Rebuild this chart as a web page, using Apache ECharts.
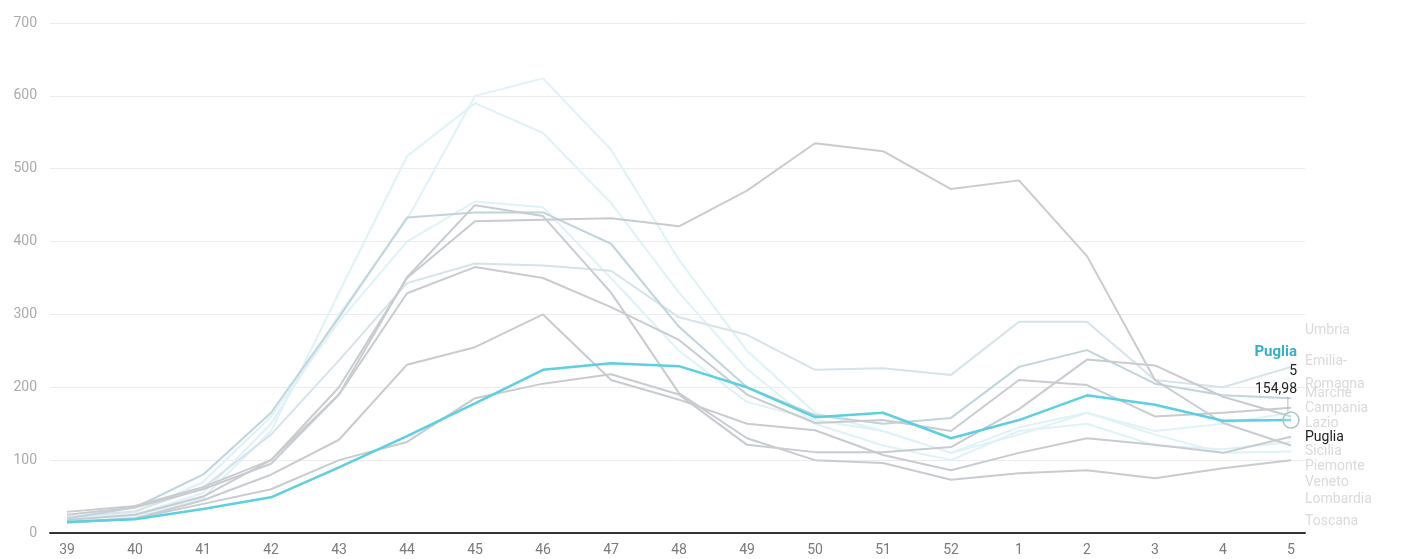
<!DOCTYPE html>
<html>
<head>
<meta charset="utf-8">
<script src="https://cdn.jsdelivr.net/npm/echarts@6/dist/echarts.min.js"></script>
<style>
html,body{margin:0;padding:0;background:#fff;}
#chart{width:1402px;height:559px;}
</style>
</head>
<body>
<div id="chart"></div>
<script>
const weeks = ['39','40','41','42','43','44','45','46','47','48','49','50','51','52','1','2','3','4','5'];

const umbria        = [22, 30, 62, 135, 237, 343, 370, 367, 360, 296, 272, 224, 226, 217, 290, 290, 210, 200, 228];
const emiliaRomagna = [20, 35, 80, 165, 296, 433, 440, 440, 397, 283, 200, 162, 150, 158, 228, 251, 205, 189, 185];
const marche        = [18, 25, 50, 100, 190, 329, 365, 350, 310, 265, 190, 151, 155, 140, 210, 203, 160, 165, 172];
const campania      = [20, 28, 70, 160, 290, 400, 455, 447, 350, 250, 180, 155, 140, 110, 145, 165, 140, 150, 165];
const lazio         = [15, 20, 40, 60, 100, 125, 185, 205, 218, 190, 121, 111, 111, 118, 170, 238, 230, 187, 160];
const puglia        = [15, 19, 33, 49, 90, 133, 178, 224, 233, 229, 200, 159, 165, 130, 155, 189, 176, 154, 154.98];
const sicilia       = [14, 20, 45, 80, 128, 231, 255, 300, 210, 183, 150, 141, 107, 86, 110, 130, 121, 110, 132];
const piemonte      = [15, 22, 48, 140, 330, 517, 590, 549, 453, 330, 225, 150, 120, 100, 140, 150, 120, 115, 125];
const veneto        = [29, 37, 63, 100, 200, 350, 428, 430, 432, 421, 470, 535, 524, 472, 484, 380, 210, 151, 120];
const lombardia     = [18, 25, 55, 150, 300, 430, 600, 624, 526, 375, 250, 165, 140, 110, 135, 165, 135, 110, 112];
const toscana       = [25, 35, 60, 95, 190, 351, 450, 435, 330, 192, 130, 100, 96, 73, 82, 86, 75, 89, 100];

const yTicks = [0, 100, 200, 300, 400, 500, 600, 700];

const GREY = '#c8cbd0', BLUE = '#c0d4dc', CYAN = '#dff2f7';
const FONT = 'Roboto';

// label slot (vertical pixel position of each end label, styling only)
const regions = [
  {name: 'Umbria', data: umbria, color: '#d6e3e8', slot: 330},
  {name: 'Emilia-Romagna', label: 'Emilia-\nRomagna', data: emiliaRomagna, color: BLUE, slot: 373, lh: 23},
  {name: 'Marche', data: marche, color: GREY, slot: 393},
  {name: 'Campania', data: campania, color: CYAN, slot: 408},
  {name: 'Lazio', data: lazio, color: GREY, slot: 423},
  {name: 'Sicilia', data: sicilia, color: GREY, slot: 451},
  {name: 'Piemonte', data: piemonte, color: CYAN, slot: 466},
  {name: 'Veneto', data: veneto, color: GREY, slot: 482},
  {name: 'Lombardia', data: lombardia, color: CYAN, slot: 499},
  {name: 'Toscana', data: toscana, color: GREY, slot: 521}
];
const pugliaSlot = 437;

const series = regions.map(r => ({
  name: r.name,
  type: 'line',
  xAxisIndex: 1, yAxisIndex: 1,
  data: r.data,
  symbol: 'none',
  silent: true,
  lineStyle: {color: r.color, width: 2},
  itemStyle: {color: r.color},
  z: r.color === CYAN ? 2 : 3,
  endLabel: {
    show: true,
    formatter: () => r.label || r.name,
    color: '#dadada',
    fontFamily: FONT,
    fontSize: 14,
    lineHeight: r.lh || 15,
    distance: 14
  },
  animation: false
}));

const pugliaData = puglia.map((v, i) => i === puglia.length - 1 ? {
  value: v,
  symbol: 'circle',
  symbolSize: 16,
  itemStyle: {color: 'rgba(255,255,255,0.2)', borderColor: '#a9c3cb', borderWidth: 1.5},
  label: {
    show: true,
    position: 'top',
    align: 'right',
    offset: [6, 4],
    formatter: '{t|Puglia}\n{v|' + weeks[i] + '}\n{v|' + String(v).replace('.', ',') + '}\n{k|│}',
    rich: {
      t: {color: '#3aaec2', fontWeight: 'bold', fontSize: 15, fontFamily: FONT, lineHeight: 21, align: 'right'},
      v: {color: '#222', fontSize: 14, fontFamily: FONT, lineHeight: 18, align: 'right'},
      k: {color: '#b5b5b5', fontSize: 12, lineHeight: 12, align: 'right', padding: [0, 5, 0, 0]}
    }
  }
} : v);

series.push({
  name: 'Puglia',
  type: 'line',
  xAxisIndex: 1, yAxisIndex: 1,
  data: pugliaData,
  symbol: 'none',
  showSymbol: true,
  silent: true,
  z: 10,
  lineStyle: {color: '#5ccfe0', width: 2.5},
  itemStyle: {color: '#5ccfe0'},
  endLabel: {
    show: true,
    formatter: 'Puglia',
    color: '#1a1a1a',
    fontFamily: FONT,
    fontSize: 14,
    lineHeight: 15,
    distance: 14
  },
  animation: false
});

const chart = echarts.init(document.getElementById('chart'));
chart.setOption({
  animation: false,
  backgroundColor: '#fff',
  grid: [
    {left: 50, right: 97, top: 23, bottom: 26},
    {left: 67, right: 111, top: 23, bottom: 26}
  ],
  xAxis: [
    {type: 'value', gridIndex: 0, min: 0, max: 1, axisLabel: {show: false}, axisTick: {show: false},
     splitLine: {show: false}, axisLine: {show: true, lineStyle: {color: '#333', width: 2}}, z: 5},
    {type: 'category', gridIndex: 1, data: weeks, boundaryGap: false,
     axisLine: {show: false}, axisTick: {show: false},
     axisLabel: {color: '#7a7a7a', fontSize: 14, fontFamily: FONT, margin: 10, interval: 0}}
  ],
  yAxis: [
    {type: 'value', gridIndex: 0, min: yTicks[0], max: yTicks[yTicks.length - 1], interval: 100,
     axisLine: {show: false}, axisTick: {show: false},
     axisLabel: {color: '#aaa', fontSize: 14, fontFamily: FONT, margin: 13},
     splitLine: {lineStyle: {color: '#ececec', width: 1}}},
    {type: 'value', gridIndex: 1, min: yTicks[0], max: yTicks[yTicks.length - 1], interval: 100, show: false,
     splitLine: {show: false}}
  ],
  series: series
});

// shift end labels to their slots using the library's own scale
const last = weeks.length - 1;
const endY = d => chart.convertToPixel({xAxisIndex: 1, yAxisIndex: 1}, [last, d[last]])[1];
const upd = regions.map(r => ({endLabel: {offset: [0, r.slot - endY(r.data)]}}));
upd.push({endLabel: {offset: [0, pugliaSlot - endY(puglia)]}});
chart.setOption({series: upd});
</script>
</body>
</html>
